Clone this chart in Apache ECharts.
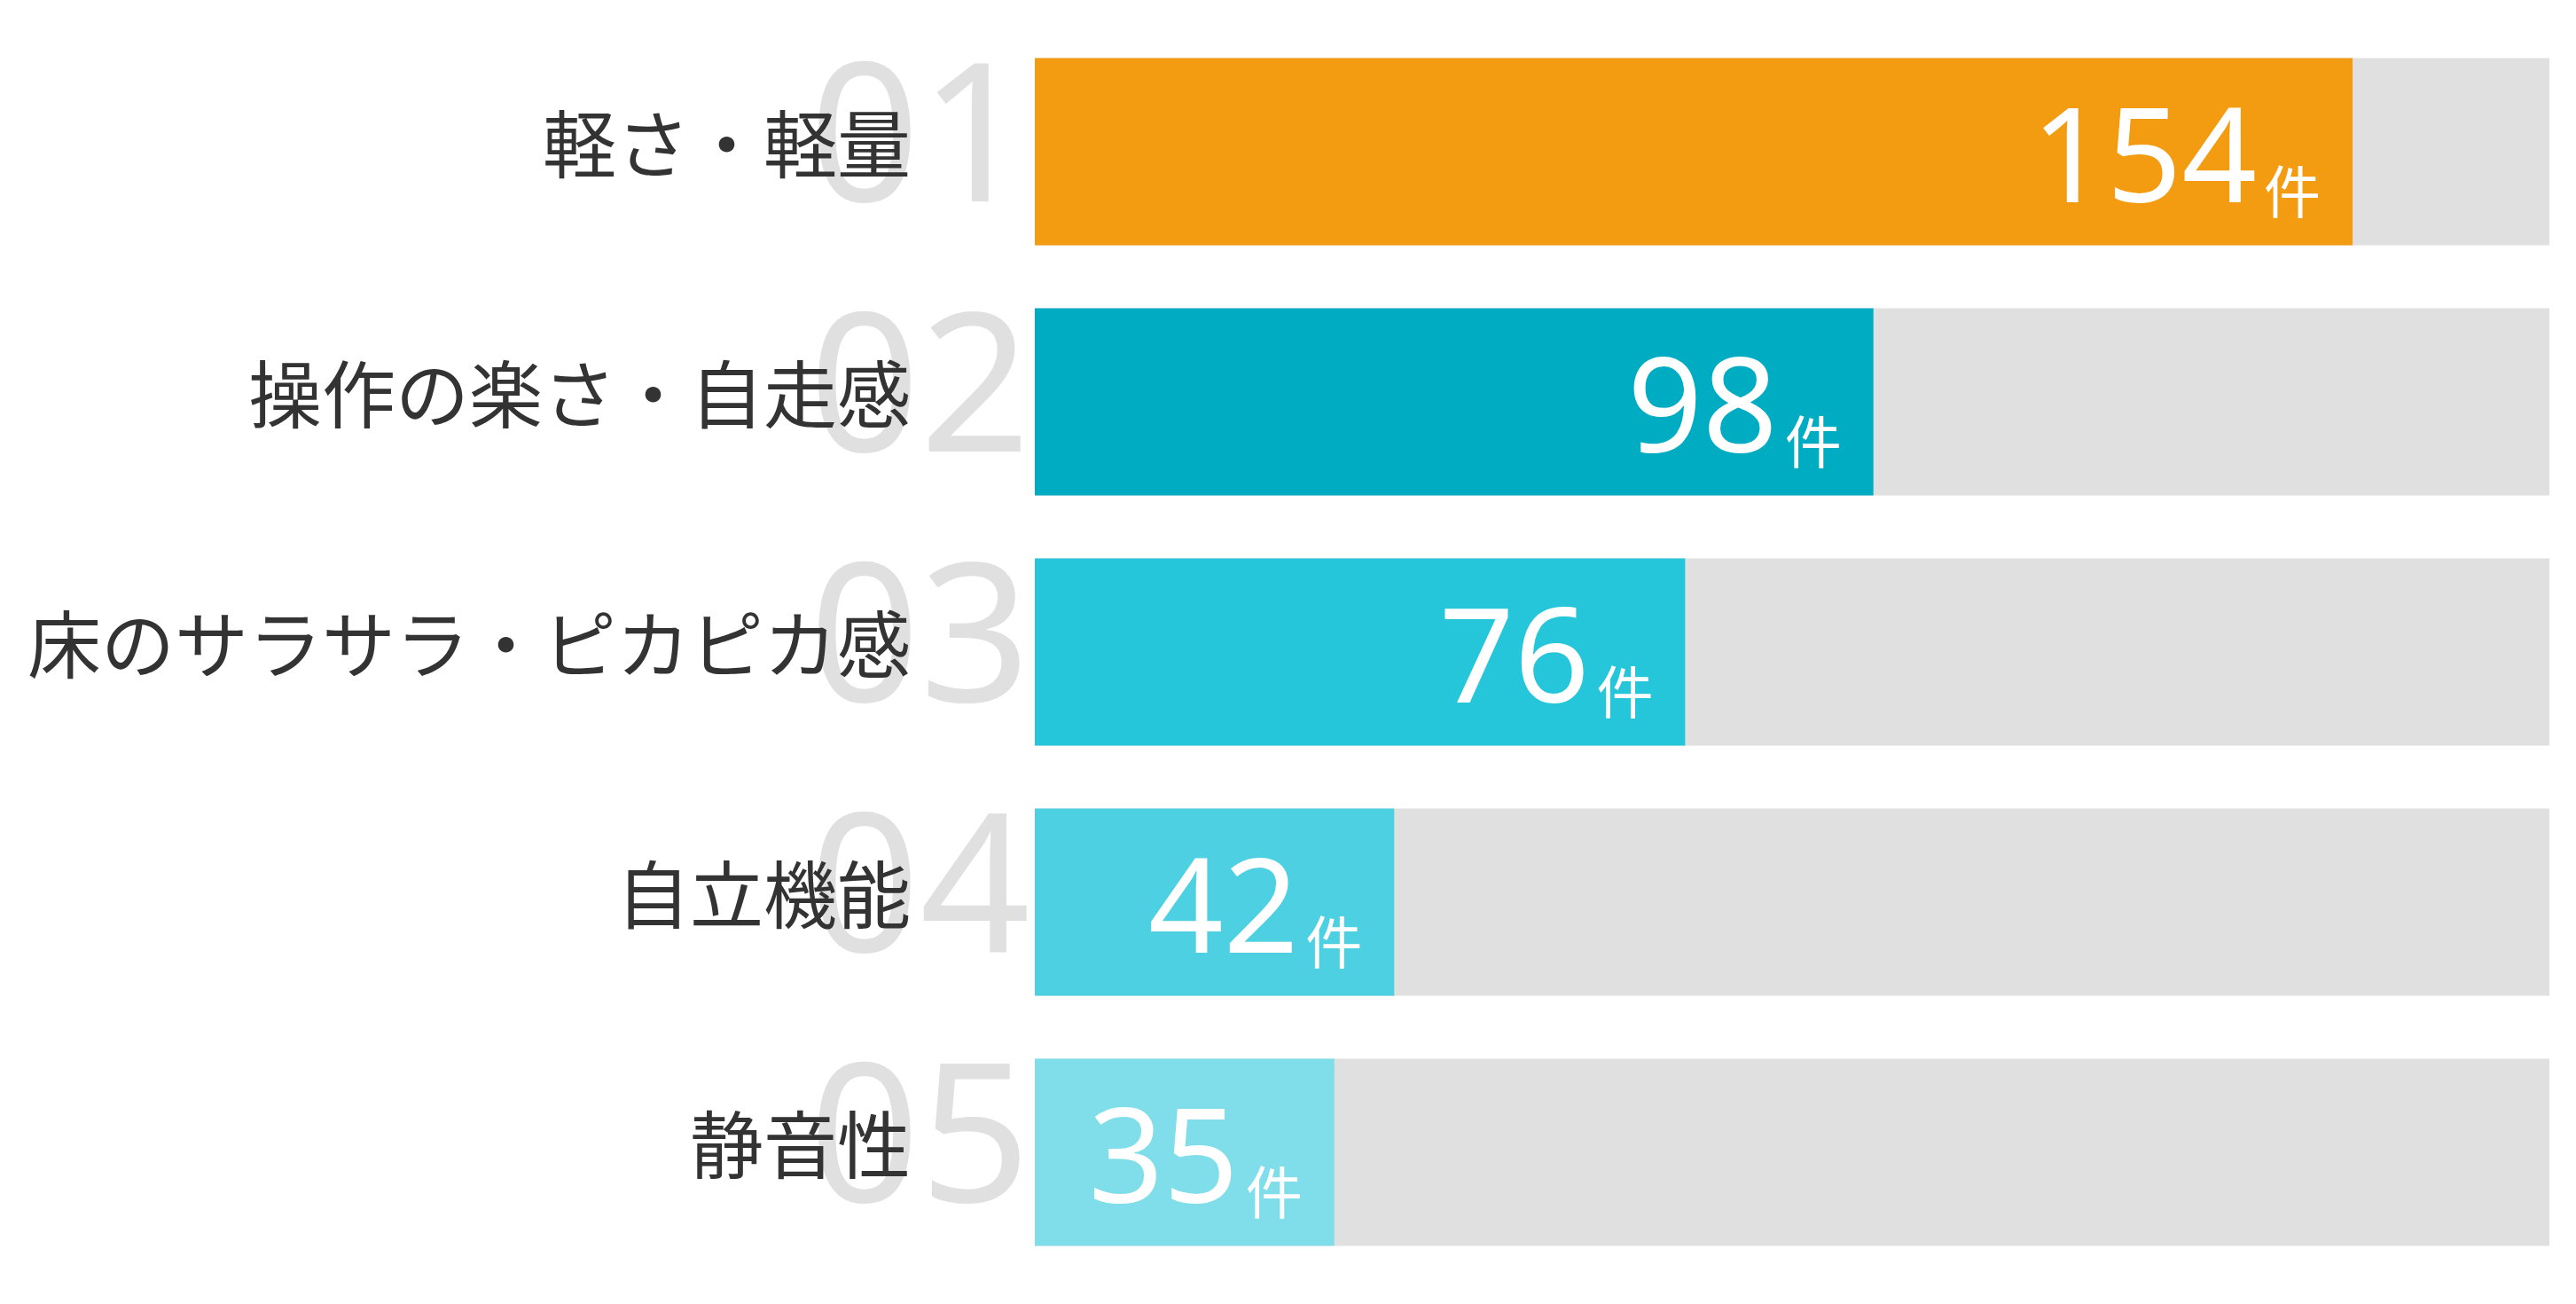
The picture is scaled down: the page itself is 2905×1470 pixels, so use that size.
<!DOCTYPE html>
<html><head><meta charset="utf-8">
<script src="https://cdn.jsdelivr.net/npm/echarts@6.0.0/dist/echarts.min.js"></script>
<style>html,body{margin:0;padding:0;background:#fff}#c{width:2905px;height:1470px}</style>
</head><body><div id="c"></div>
<script>
const categories = ['軽さ・軽量', '操作の楽さ・自走感', '床のサラサラ・ピカピカ感', '自立機能', '静音性'];
const ranks = ['01', '02', '03', '04', '05'];
const values = [154, 98, 76, 42, 35];
const barColors = ['#F39C12', '#00ACC1', '#26C6DA', '#4DD0E1', '#80DEEA'];
const axisMax = 177;
const unitText = '件';

const chart = echarts.init(document.getElementById('c'), null, {renderer: 'canvas'});
const gridBox = {left: 1167, right: 30, top: 30, bottom: 30};
chart.setOption({
  animation: false,
  backgroundColor: '#ffffff',
  grid: [Object.assign({}, gridBox), Object.assign({}, gridBox)],
  xAxis: [
    {type: 'value', gridIndex: 0, min: 0, max: axisMax, show: false},
    {type: 'value', gridIndex: 1, min: 0, max: axisMax, show: false}
  ],
  yAxis: [
    {
      type: 'category', gridIndex: 1, data: ranks, inverse: true, z: 1,
      axisLine: {show: false}, axisTick: {show: false}, splitLine: {show: false},
      axisLabel: {
        interval: 0, margin: 5,
        formatter: v => '{r|' + v + '}',
        rich: {r: {fontSize: 218, lineHeight: 218, color: '#e0e0e0', fontFamily: 'Noto Sans', padding: [0, 0, 12, 0]}}
      }
    },
    {
      type: 'category', gridIndex: 0, data: categories, inverse: true, z: 5,
      axisLine: {show: false}, axisTick: {show: false}, splitLine: {show: false},
      axisLabel: {
        interval: 0, margin: 140,
        formatter: v => '{t|' + v + '}',
        rich: {t: {fontSize: 83, lineHeight: 83, color: '#333333', fontFamily: 'Noto Sans CJK JP', padding: [0, 0, 18, 0]}}
      }
    }
  ],
  series: [{
    type: 'bar', xAxisIndex: 0, yAxisIndex: 1,
    barWidth: 211,
    showBackground: true,
    backgroundStyle: {color: '#e0e0e0'},
    data: values.map((v, i) => ({value: v, itemStyle: {color: barColors[i]}})),
    label: {
      show: true, position: 'insideRight', distance: 36, offset: [0, 15],
      formatter: p => '{num|' + p.value + '}{unit|' + unitText + '}',
      rich: {
        num: {fontSize: 148, lineHeight: 148, color: '#fff', fontFamily: 'Noto Sans', verticalAlign: 'bottom'},
        unit: {fontSize: 64, lineHeight: 64, color: '#fff', fontFamily: 'Noto Sans CJK JP', verticalAlign: 'bottom', padding: [0, 0, 12, 8]}
      }
    }
  }]
});
</script></body></html>
